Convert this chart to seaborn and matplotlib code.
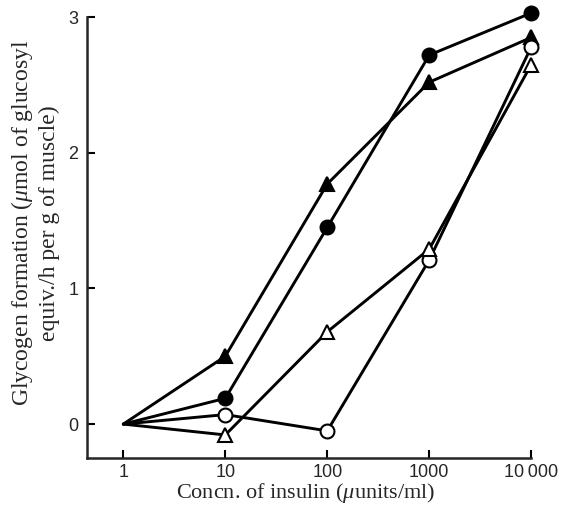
import matplotlib
matplotlib.use("Agg")
import matplotlib.pyplot as plt
import seaborn as sns
import pandas as pd

# --- data ---
insulin = [1, 10, 100, 1000, 10000]
filled_circles = [0.0, 0.19, 1.45, 2.72, 3.03]
filled_triangles = [0.0, 0.50, 1.77, 2.52, 2.85]
open_circles = [0.0, 0.07, -0.05, 1.21, 2.78]
open_triangles = [0.0, -0.08, 0.68, 1.29, 2.65]
xtick_labels = ["1", "10", "100", "1000", "10\u2009000"]

series = [
    (filled_circles, "o", "black"),
    (filled_triangles, "^", "black"),
    (open_circles, "o", "white"),
    (open_triangles, "^", "white"),
]

sns.set_style("ticks")
plt.rcParams["font.family"] = ["Liberation Sans", "DejaVu Sans"]
plt.rcParams["mathtext.fontset"] = "custom"
plt.rcParams["mathtext.it"] = "Liberation Serif:italic"
plt.rcParams["mathtext.rm"] = "Liberation Serif"

fig = plt.figure(figsize=(5.61, 5.08), dpi=100)
ax = fig.add_axes([0.155, 0.0984, 0.792, 0.868])

for i, (vals, mk, face) in enumerate(series):
    df = pd.DataFrame({"x": insulin, "y": vals})
    # the common starting point at 1 unit/ml is drawn without a marker
    sns.lineplot(data=df, x="x", y="y", ax=ax, color="black", lw=2.1,
                 marker=mk, markersize=10, markerfacecolor=face,
                 markeredgecolor="black", markeredgewidth=1.5,
                 markevery=[1, 2, 3, 4], clip_on=False, zorder=3 + i)

ax.set_xscale("log")
ax.set_xlim(0.44, 10000)
ax.set_ylim(-0.25, 3.0)
ax.set_xticks(insulin)
ax.set_xticklabels(xtick_labels, fontsize=13)
ax.minorticks_off()
ax.set_yticks([0, 1, 2, 3])
ax.set_yticklabels(["0", "1", "2", "3"], fontsize=13)
ax.tick_params(direction="in", length=6, width=1.5, color="black")
ax.tick_params(axis="x", pad=4)
ax.tick_params(axis="y", pad=6)

for s in ["top", "right"]:
    ax.spines[s].set_visible(False)
for s in ["left", "bottom"]:
    ax.spines[s].set_linewidth(1.8)

ax.set_xlabel("Concn. of insulin ($\\mu$units/ml)", family="Liberation Serif",
              fontsize=16)
ax.set_ylabel("Glycogen formation ($\\mu$mol of glucosyl\nequiv./h per g of muscle)",
              family="Liberation Serif", fontsize=17)
ax.xaxis.set_label_coords(0.493, -0.052)
ax.yaxis.set_label_coords(-0.061, 0.533)

fig.savefig("out.png", dpi=100)
